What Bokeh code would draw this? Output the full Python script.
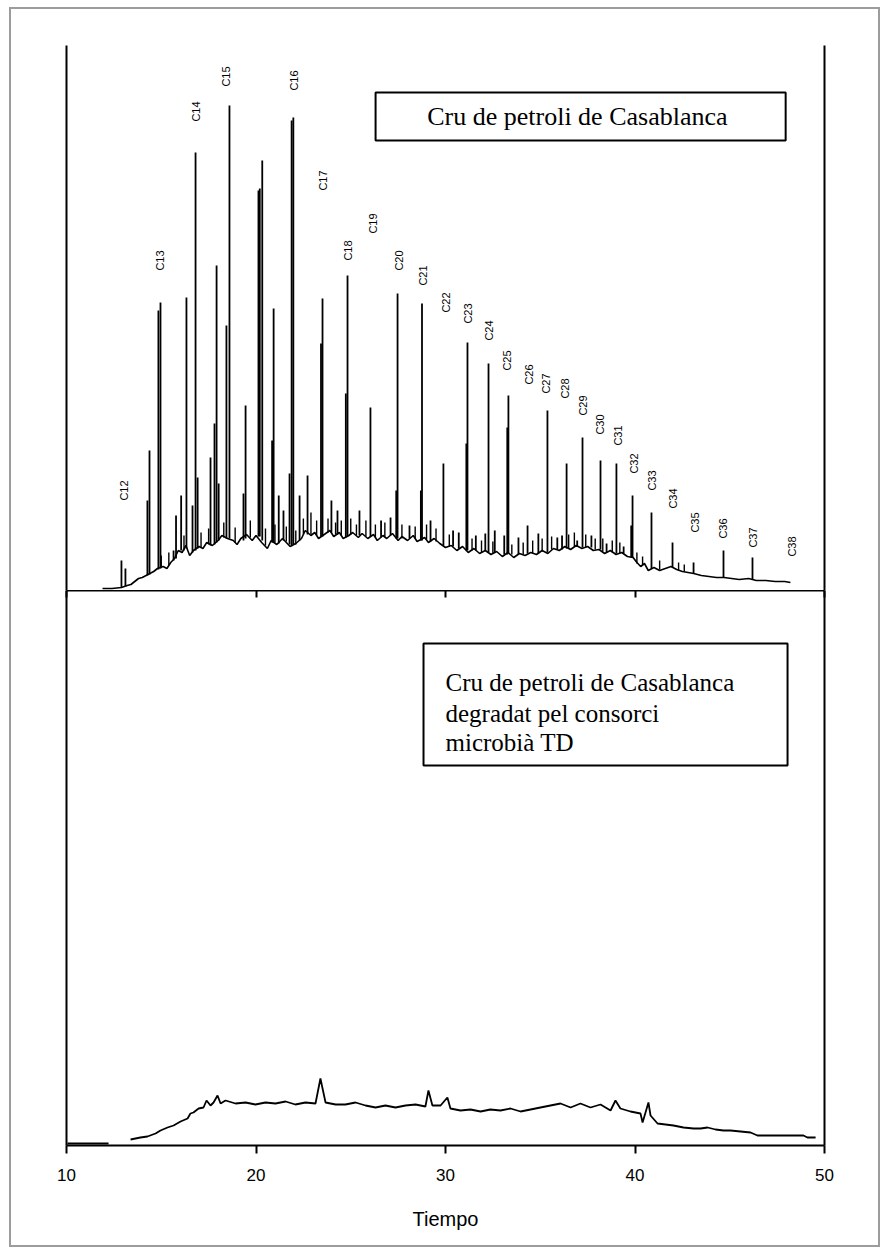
import math
from bokeh.plotting import figure
from bokeh.layouts import column
from bokeh.models import Range1d, LinearAxis, FixedTicker, Label, BoxAnnotation
from bokeh.core.properties import value
from bokeh.embed import file_html
from bokeh.resources import INLINE

NaN = float("nan")

# ---------------- data: crude oil (top panel) ----------------
# unresolved hump (baseline trace), time in min, intensity in arbitrary units
top_hump_t = [11.9, 12.4, 12.9, 13.2, 13.4, 13.6, 13.8, 14.0, 14.2, 14.4, 14.6, 14.8, 15.1, 15.3,
              15.5, 15.7, 15.9, 16.1, 16.3, 16.5, 16.7, 17.0, 17.2, 17.4, 17.7, 18.0, 18.2, 18.5,
              18.8, 19.0, 19.2, 19.5, 19.8, 20.0, 20.3, 20.6, 20.8, 21.1, 21.4, 21.6, 21.8, 22.1,
              22.4, 22.6, 22.9, 23.1, 23.3, 23.6, 23.9, 24.1, 24.4, 24.6, 24.9, 25.1, 25.4, 25.6,
              25.9, 26.2, 26.4, 26.7, 26.9, 27.2, 27.5, 27.7, 28.0, 28.3, 28.5, 28.9, 29.1, 29.4,
              29.7, 30.0, 30.3, 30.6, 30.9, 31.2, 31.5, 31.8, 32.1, 32.4, 32.7, 33.0, 33.3, 33.6,
              33.9, 34.2, 34.5, 34.8, 35.1, 35.4, 35.7, 36.0, 36.3, 36.6, 36.9, 37.2, 37.5, 37.8,
              38.1, 38.4, 38.7, 39.0, 39.3, 39.6, 39.9, 40.1, 40.3, 40.5, 40.7, 41.0, 41.3, 41.6,
              41.9, 42.2, 42.5, 42.8, 43.1, 43.5, 43.9, 44.3, 44.7, 45.1, 45.5, 46.0, 46.4, 46.9,
              47.4, 47.9, 48.2]
top_hump_v = [2, 2, 3, 5, 6, 9, 12, 13, 15, 17, 19, 22, 24, 22,
              28, 32, 40, 38, 45, 35, 40, 44, 42, 48, 45, 50, 55, 52,
              50, 46, 52, 56, 50, 55, 48, 42, 50, 46, 52, 48, 44, 47,
              52, 60, 55, 58, 52, 56, 60, 54, 58, 52, 55, 58, 53, 57,
              52, 56, 50, 55, 52, 57, 50, 54, 50, 55, 49, 53, 48, 52,
              47, 43, 45, 40, 44, 38, 42, 37, 40, 36, 39, 34, 38, 33,
              37, 35, 38, 36, 40, 37, 42, 40, 44, 41, 45, 42, 44, 40,
              41, 37, 40, 36, 38, 34, 33, 28, 24, 27, 20, 23, 20, 22,
              24, 21, 19, 18, 17, 15, 14, 13, 13, 12, 11, 12, 10, 10,
              9, 9, 8]

# resolved peaks: retention time, apex and foot intensity
peak_t = [12.90, 13.11, 14.27, 14.38, 14.85, 14.96, 15.65, 15.78, 16.05, 16.33, 16.65, 16.81,
          16.92, 17.60, 17.81, 17.92, 18.03, 18.44, 18.60, 19.34, 19.45, 20.13, 20.20, 20.33,
          20.85, 20.93, 21.20, 21.45, 21.77, 21.88, 21.97, 22.30, 22.72, 23.43, 23.51, 23.98,
          24.30, 24.74, 24.83, 25.46, 26.04, 26.60, 27.10, 27.40, 27.47, 28.10, 28.70, 28.76,
          29.21, 29.89, 30.40, 30.70, 31.10, 31.16, 31.60, 32.10, 32.27, 32.60, 33.10, 33.26,
          33.32, 33.85, 34.33, 34.90, 35.38, 35.90, 36.15, 36.39, 36.95, 37.23, 37.70, 38.18,
          38.50, 39.02, 39.40, 39.80, 39.87, 40.87, 41.98, 43.09, 44.67, 46.20]
peak_top = [30, 22, 90, 140, 280, 288, 40, 75, 95, 293, 85, 438,
            113, 133, 167, 325, 107, 265, 485, 97, 185, 400, 402, 430,
            150, 282, 95, 80, 117, 470, 473, 95, 115, 247, 292, 90,
            80, 197, 315, 80, 183, 70, 73, 100, 297, 65, 100, 287,
            70, 127, 60, 58, 147, 248, 55, 57, 227, 60, 55, 163,
            195, 53, 65, 57, 180, 53, 55, 127, 50, 153, 55, 130,
            47, 127, 44, 65, 95, 78, 48, 28, 40, 33]
peak_foot = [3, 4, 15, 16, 21, 22, 30, 32, 40, 42, 38, 40,
             42, 45, 46, 48, 50, 52, 52, 50, 52, 54, 54, 50,
             48, 48, 47, 50, 46, 45, 46, 50, 56, 54, 54, 58,
             56, 53, 54, 55, 54, 53, 55, 52, 52, 52, 50, 50,
             49, 45, 44, 42, 40, 40, 40, 40, 38, 38, 36, 36,
             37, 36, 37, 37, 38, 41, 41, 42, 44, 43, 43, 41,
             38, 37, 37, 33, 33, 22, 23, 17, 13, 11]

# small noise spikes on the hump
minor_t = [15.0, 15.4, 16.2, 17.1, 17.5, 18.3, 18.9, 19.7, 20.5, 21.0, 21.6, 22.1, 22.5, 22.9,
           23.2, 23.8, 24.2, 24.5, 25.0, 25.3, 25.8, 26.3, 26.8, 27.7, 28.4, 29.0, 29.5, 30.2,
           31.4, 31.9, 32.5, 33.5, 34.1, 34.6, 35.1, 35.6, 36.5, 36.8, 37.4, 37.9, 38.3, 38.8,
           39.2, 40.1, 40.4, 41.3, 42.3, 42.6]
minor_top = [35, 38, 55, 58, 62, 68, 63, 70, 62, 66, 64, 60, 72, 78,
             70, 72, 68, 70, 72, 66, 70, 66, 68, 66, 64, 66, 62, 56,
             52, 50, 49, 46, 48, 50, 52, 54, 56, 58, 56, 52, 52, 50,
             48, 38, 34, 30, 28, 26]
minor_foot = [23, 25, 40, 43, 46, 53, 48, 53, 45, 48, 49, 46, 56, 56,
              55, 58, 56, 55, 56, 55, 54, 53, 54, 52, 52, 51, 49, 44,
              40, 38, 37, 36, 36, 37, 39, 41, 42, 44, 43, 41, 39, 38,
              37, 27, 25, 21, 20, 19]

# n-alkane labels
alk_labels = ["C12", "C13", "C14", "C15", "C16", "C17", "C18", "C19", "C20", "C21", "C22",
              "C23", "C24", "C25", "C26", "C27", "C28", "C29", "C30", "C31", "C32", "C33",
              "C34", "C35", "C36", "C37", "C38"]
alk_label_t = [13.01, 14.96, 16.81, 18.44, 21.98, 23.51, 24.88, 26.15, 27.52, 28.79, 30.00,
               31.21, 32.32, 33.27, 34.38, 35.28, 36.28, 37.28, 38.13, 39.08, 39.97, 40.92,
               41.98, 43.19, 44.62, 46.25, 48.26]
alk_label_v = [100, 330, 479, 514, 510, 410, 340, 367, 330, 315, 288,
               277, 260, 230, 216, 207, 202, 185, 166, 155, 127, 110,
               92, 68, 62, 53, 44]

# ---------------- data: degraded crude (bottom panel) ----------------
bot_t = [10.05, 12.22, NaN, 13.38, 13.9, 14.27, 14.7, 14.96, 15.33, 15.65, 16.02, 16.39, 16.54,
         16.7, 16.97, 17.23, 17.39, 17.6, 17.76, 17.97, 18.13, 18.39, 18.92, 19.45, 19.97,
         20.5, 21.03, 21.56, 22.08, 22.61, 23.14, 23.4, 23.67, 24.2, 24.72, 25.25, 25.78,
         26.31, 26.83, 27.36, 27.89, 28.42, 28.94, 29.1, 29.31, 29.74, 30.1, 30.26, 30.79,
         31.32, 31.85, 32.37, 32.9, 33.43, 33.96, 34.49, 35.01, 35.54, 36.07, 36.6, 37.12,
         37.65, 38.18, 38.71, 38.97, 39.23, 39.76, 40.29, 40.4, 40.71, 40.82, 41.19, 41.61,
         42.03, 42.56, 43.09, 43.46, 43.83, 44.25, 44.67, 45.04, 45.57, 46.1, 46.46, 47.68,
         48.89, 49.1, 49.53]
bot_v = [2, 2, NaN, 6, 8, 9, 12, 15, 18, 20, 24, 27, 32,
         33, 37, 38, 45, 40, 43, 50, 42, 45, 42, 43, 41,
         43, 42, 44, 41, 43, 42, 67, 43, 41, 41, 43, 40,
         38, 40, 38, 40, 41, 39, 55, 40, 40, 48, 37, 35,
         36, 34, 36, 35, 37, 34, 36, 38, 40, 42, 38, 42,
         38, 41, 35, 45, 37, 34, 32, 23, 43, 30, 22, 21,
         20, 18, 17, 17, 18, 16, 15, 15, 14, 13, 10, 10,
         10, 8, 8]

x_ticks = [10, 20, 30, 40, 50]
title_top = "Cru de petroli de  Casablanca"
title_bottom = ["Cru de petroli de  Casablanca", "degradat pel consorci", "microbià TD"]
x_title = "Tiempo"

# ---------------- figures ----------------
W = 867
xr = Range1d(10, 50)


def hide_labels(ax):
    ax.major_label_text_font_size = "0px"
    ax.major_label_text_color = None
    ax.major_label_standoff = 0


def frame_axes(p):
    p.grid.grid_line_color = None
    p.outline_line_color = None
    right = LinearAxis()
    p.add_layout(right, "right")
    for ax in p.yaxis:
        ax.ticker = FixedTicker(ticks=[])
        ax.major_tick_out = 0
        ax.major_tick_in = 0
        ax.minor_tick_out = 0
        ax.minor_tick_in = 0
        hide_labels(ax)
        ax.axis_line_width = 2
        ax.axis_line_color = "black"


p1 = figure(width=W, height=581, x_range=xr, y_range=Range1d(0, 545),
            x_axis_location=None, output_backend="svg", toolbar_location=None,
            min_border_left=55, min_border_right=54, min_border_top=36, min_border_bottom=0,
            background_fill_color="white", border_fill_color="white")
frame_axes(p1)

p1.line(top_hump_t, top_hump_v, line_color="black", line_width=1.6)
p1.segment(x0=minor_t, y0=minor_foot, x1=minor_t, y1=minor_top, line_color="black", line_width=1.4)
p1.segment(x0=peak_t, y0=peak_foot, x1=peak_t, y1=peak_top, line_color="black", line_width=1.8)
p1.text(x=alk_label_t, y=alk_label_v, text=alk_labels, angle=math.pi / 2,
        text_align="center", text_baseline="middle", text_color="black",
        text_font=value("Liberation Sans"), text_font_size="11px")

p1.add_layout(BoxAnnotation(left=26.31, right=47.95, bottom=450, top=498,
                            fill_color="white", fill_alpha=1.0,
                            line_color="black", line_width=2, line_alpha=1.0))
p1.add_layout(Label(x=37.13, y=474, text=title_top, text_align="center",
                    text_baseline="middle", text_font="Liberation Serif",
                    text_font_size="26px", text_color="black"))

p2 = figure(width=W, height=655, x_range=xr, y_range=Range1d(0, 555),
            output_backend="svg", toolbar_location=None,
            min_border_left=55, min_border_right=54, min_border_top=0, min_border_bottom=100,
            background_fill_color="white", border_fill_color="white")
frame_axes(p2)

xa = p2.xaxis[0]
xa.ticker = FixedTicker(ticks=x_ticks)
xa.major_tick_out = 8
xa.major_tick_in = 0
xa.minor_tick_out = 0
xa.minor_tick_in = 0
xa.axis_line_width = 2
xa.major_tick_line_width = 2
xa.major_label_text_font = "Liberation Sans"
xa.major_label_text_font_size = "17px"
xa.major_label_text_color = "black"
xa.major_label_standoff = 15
xa.axis_label = x_title
xa.axis_label_text_font = "Liberation Sans"
xa.axis_label_text_font_size = "20px"
xa.axis_label_text_font_style = "normal"
xa.axis_label_text_color = "black"
xa.axis_label_standoff = 24

top_ax = LinearAxis(ticker=FixedTicker(ticks=x_ticks), major_tick_in=7, major_tick_out=0,
                    minor_tick_in=0, minor_tick_out=0,
                    axis_line_width=2, major_tick_line_width=2)
hide_labels(top_ax)
p2.add_layout(top_ax, "above")

p2.line(bot_t, bot_v, line_color="black", line_width=1.8)

p2.add_layout(BoxAnnotation(left=28.84, right=48.05, bottom=380, top=502,
                            fill_color="white", fill_alpha=1.0,
                            line_color="black", line_width=2, line_alpha=1.0))
for txt, yy in zip(title_bottom, [463, 432, 403]):
    p2.add_layout(Label(x=30.0, y=yy, text=txt, text_align="left",
                        text_baseline="alphabetic", text_font="Liberation Serif",
                        text_font_size="25px", text_color="black"))

layout = column(p1, p2, spacing=0,
                styles={"border": "2px solid #9c9c9c", "background": "white",
                        "margin": "7px 0px 0px 9px"})

open("out.html", "w").write(file_html(layout, INLINE, title="Cromatograma"))
